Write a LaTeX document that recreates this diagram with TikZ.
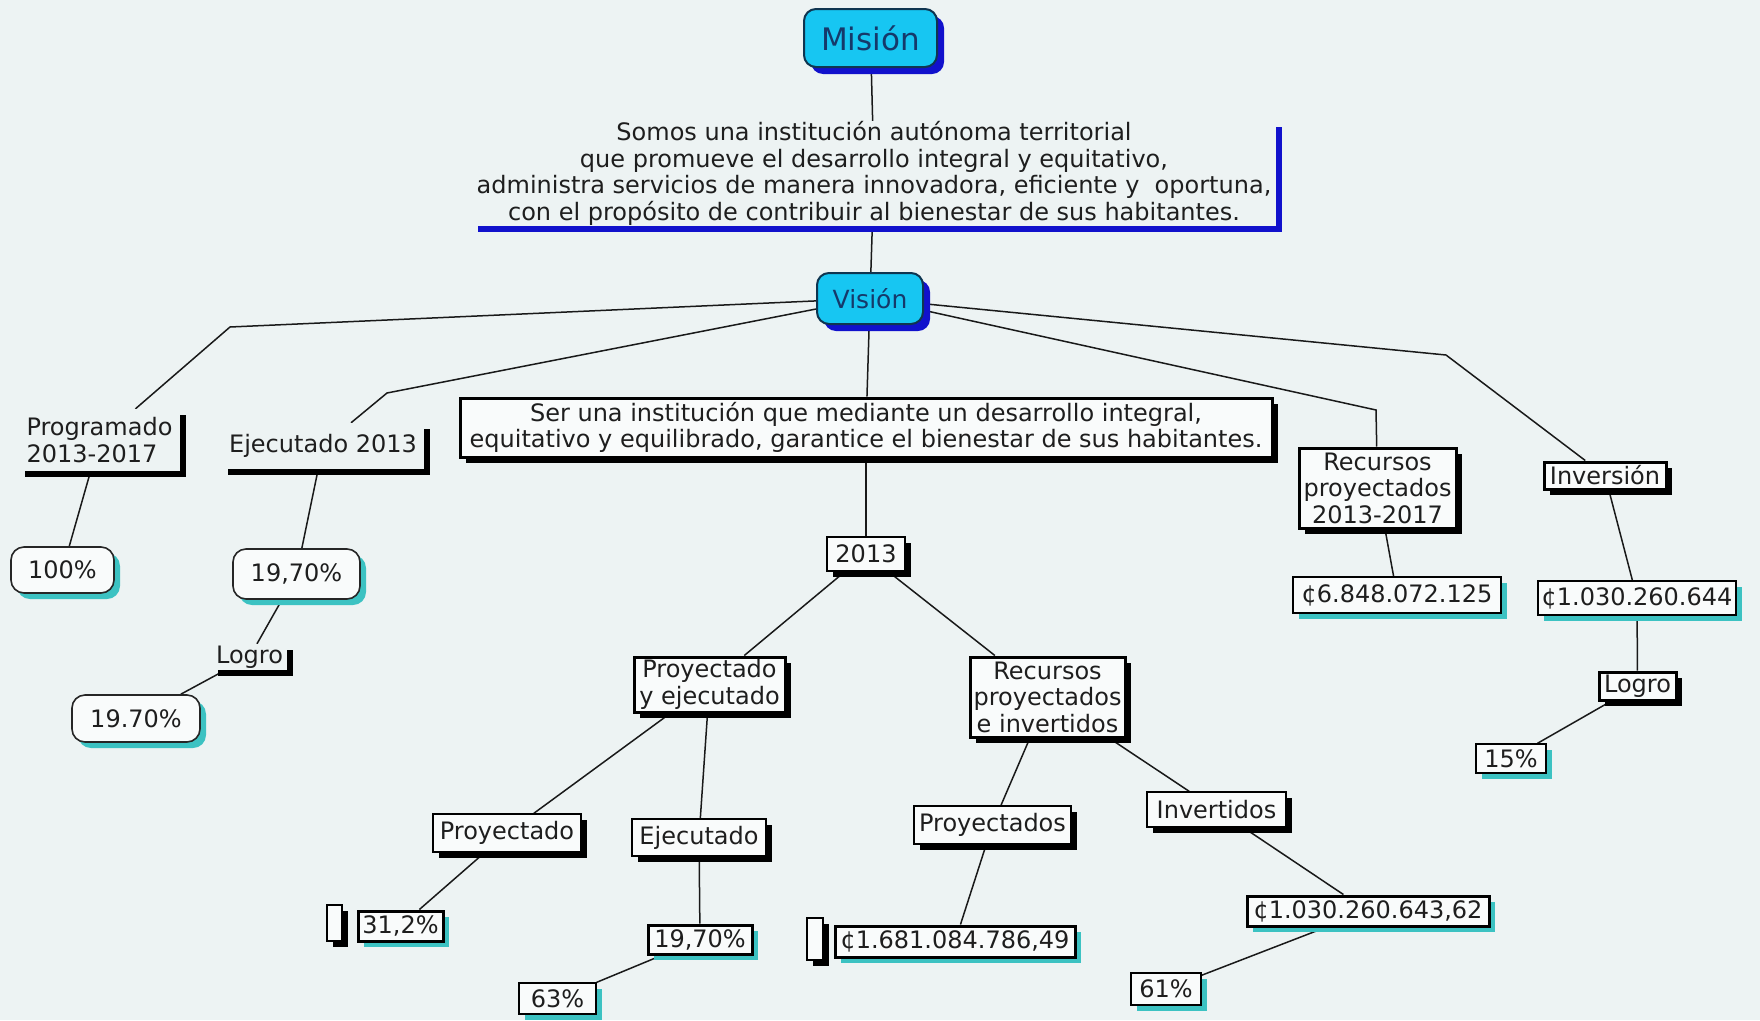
\documentclass[tikz,border=0pt]{standalone}
\usepackage{fontspec}
\setmainfont{DejaVu Sans}
\usetikzlibrary{shadows}
\definecolor{bg}{HTML}{EDF3F3}
\definecolor{boxfill}{HTML}{F9FBFB}
\definecolor{cyanfill}{HTML}{17C6F2}
\definecolor{navy}{HTML}{15396A}
\definecolor{navyborder}{HTML}{0F3550}
\definecolor{blueshadow}{HTML}{1111CC}
\definecolor{tealshadow}{HTML}{3CC2C2}
\definecolor{txt}{HTML}{1E1E1E}
\pgfdeclarelayer{back}
\pgfdeclarelayer{edges}
\pgfsetlayers{back,edges,main}
\newcommand{\fs}{\fontsize{24}{26.5}\selectfont}
\tikzset{
  base/.style={rectangle, inner sep=0pt, text=txt, font=\fs, align=center},
  wh/.style 2 args={minimum width=#1pt, minimum height=#2pt},
  bshadow/.style={general shadow={fill=black, shadow xshift=6pt, shadow yshift=-6pt}},
  tshadow/.style={general shadow={fill=tealshadow, shadow xshift=6pt, shadow yshift=-6pt}},
  cbox/.style={base, draw=black, line width=1.4pt, fill=boxfill},
  hbox/.style={base, draw=black, line width=3pt, fill=boxfill},
  ghost/.style={base, fill=bg, bshadow},
  rbox/.style={base, draw=black!85, line width=1.6pt, fill=boxfill, rounded corners=13pt, tshadow},
  cyanbox/.style={base, rounded corners=12pt, draw=navyborder, line width=2pt, fill=cyanfill, text=navy,
     general shadow={fill=blueshadow, shadow xshift=7pt, shadow yshift=-7pt}},
  conn/.style={draw=black!90, line width=1.5pt}
}
\begin{document}
\begin{tikzpicture}[x=1pt,y=-1pt]
\useasboundingbox (0,0) rectangle (1760,1020);
\begin{pgfonlayer}{back}
\fill[bg] (0,0) rectangle (1760,1020);
\end{pgfonlayer}

% top
\node[cyanbox, font=\fontsize{31}{31}\selectfont, wh={133}{58}] (mision) at (870.5,38) {Misión};
\node[base, fill=bg, general shadow={fill=blueshadow, shadow xshift=6pt, shadow yshift=-6pt}, wh={804}{105}] (mtext) at (874,173.5)
  {Somos una institución autónoma territorial\\
   que promueve el desarrollo integral y equitativo,\\
   administra servicios de manera innovadora, eficiente y\ \ oportuna,\\
   con el propósito de contribuir al bienestar de sus habitantes.};
\node[cyanbox, font=\fontsize{25}{25}\selectfont, wh={106}{51}] (vision) at (870,298.5) {Visión};

% second row
\node[ghost, align=left, wh={161}{62}] (prog) at (99.5,440) {Programado\\2013-2017};
\node[ghost, wh={202}{46}] (ej2013) at (323,446) {Ejecutado 2013};
\node[hbox, bshadow, wh={812}{59}] (vtext) at (866,427.5)
  {Ser una institución que mediante un desarrollo integral,\\
   equitativo y equilibrado, garantice el bienestar de sus habitantes.};
\node[hbox, bshadow, wh={157}{80}] (recp) at (1377.5,488) {Recursos\\proyectados\\2013-2017};
\node[hbox, bshadow, wh={122}{27}] (inv) at (1605,475.5) {Inversión};

% left branch
\node[rbox, wh={103}{46}] (p100) at (62.5,570) {100\%};
\node[rbox, wh={127}{50}] (p1970a) at (296.5,574) {19,70\%};
\node[ghost, wh={75}{26}] (logrol) at (249.5,657) {Logro};
\node[rbox, wh={128}{47}] (p1970b) at (136,718.5) {19.70\%};

% centre branch
\node[cbox, bshadow, wh={78}{34}] (y2013) at (866,554) {2013};
\node[hbox, bshadow, wh={151}{55}] (pye) at (709.5,684.5) {Proyectado\\y ejecutado};
\node[hbox, bshadow, wh={155}{80}] (rpi) at (1047.5,697) {Recursos\\proyectados\\e invertidos};
\node[cbox, bshadow, wh={148}{38}] (proy) at (507,833) {Proyectado};
\node[cbox, bshadow, wh={134}{37}] (ejec) at (699,837.5) {Ejecutado};
\node[hbox, tshadow, wh={85}{30}] (p312) at (400.5,926) {31,2\%};
\node[cbox, bshadow, wh={15}{36}] (s1) at (334.5,923) {};
\node[hbox, tshadow, wh={104}{29}] (p1970c) at (700,939.5) {19,70\%};
\node[cbox, tshadow, wh={77}{31}] (p63) at (557.5,998.5) {63\%};
\node[cbox, bshadow, wh={157}{38}] (proys) at (992.5,825) {Proyectados};
\node[cbox, bshadow, wh={139}{35}] (invs) at (1216.5,809.5) {Invertidos};
\node[hbox, tshadow, wh={240}{31}] (m1681) at (955,941.5) {¢1.681.084.786,49};
\node[cbox, bshadow, wh={16}{42}] (s2) at (815,939) {};
\node[hbox, tshadow, wh={242}{30}] (m1030b) at (1368,911) {¢1.030.260.643,62};
\node[cbox, tshadow, wh={70}{32}] (p61) at (1166,989) {61\%};

% right branch
\node[cbox, tshadow, wh={208}{36}] (m6848) at (1397,595) {¢6.848.072.125};
\node[cbox, tshadow, wh={198}{34}] (m1030a) at (1637,598) {¢1.030.260.644};
\node[hbox, bshadow, wh={77}{28}] (logror) at (1637.5,686) {Logro};
\node[cbox, tshadow, wh={70}{29}] (p15) at (1511,758.5) {15\%};

\coordinate (b1) at (230,327);
\coordinate (b2) at (387,393);
\coordinate (b3) at (1376,410);
\coordinate (b4) at (1446,355);

\begin{pgfonlayer}{edges}
\draw[conn] (mision) -- (mtext);
\draw[conn] (mtext) -- (vision);
\draw[conn] (vision) -- (b1) -- (prog);
\draw[conn] (vision) -- (b2) -- (ej2013);
\draw[conn] (vision) -- (vtext);
\draw[conn] (vision) -- (b3) -- (recp);
\draw[conn] (vision) -- (b4) -- (inv);
\draw[conn] (prog) -- (p100);
\draw[conn] (ej2013) -- (p1970a);
\draw[conn] (p1970a) -- (logrol);
\draw[conn] (logrol) -- (p1970b);
\draw[conn] (vtext) -- (y2013);
\draw[conn] (y2013) -- (pye);
\draw[conn] (y2013) -- (rpi);
\draw[conn] (pye) -- (proy);
\draw[conn] (pye) -- (ejec);
\draw[conn] (proy) -- (p312);
\draw[conn] (ejec) -- (p1970c);
\draw[conn] (p1970c) -- (p63);
\draw[conn] (rpi) -- (proys);
\draw[conn] (rpi) -- (invs);
\draw[conn] (proys) -- (m1681);
\draw[conn] (invs) -- (m1030b);
\draw[conn] (m1030b) -- (p61);
\draw[conn] (recp) -- (m6848);
\draw[conn] (inv) -- (m1030a);
\draw[conn] (m1030a) -- (logror);
\draw[conn] (logror) -- (p15);
\end{pgfonlayer}
\end{tikzpicture}
\end{document}
